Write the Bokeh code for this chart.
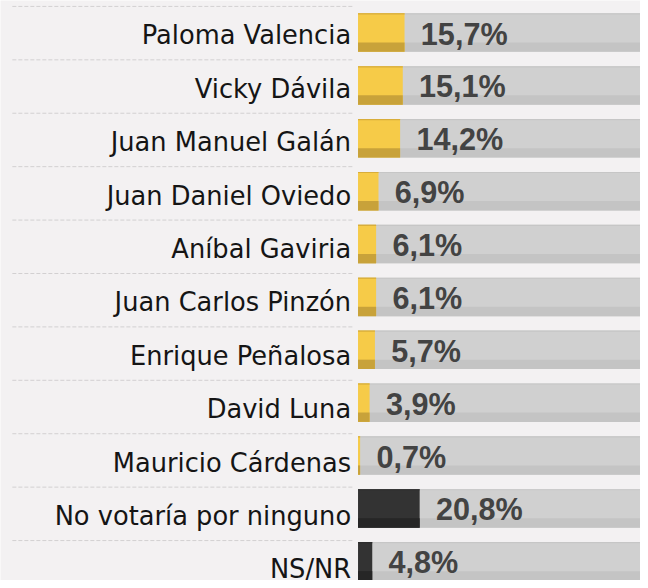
from bokeh.plotting import figure
from bokeh.models import Range1d, ColumnDataSource
from bokeh.core.properties import value
from bokeh.embed import file_html
from bokeh.resources import INLINE

# ---- data ----
candidates = [
    "Paloma Valencia", "Vicky Dávila", "Juan Manuel Galán", "Juan Daniel Oviedo",
    "Aníbal Gaviria", "Juan Carlos Pinzón", "Enrique Peñalosa", "David Luna",
    "Mauricio Cárdenas", "No votaría por ninguno", "NS/NR",
]
percentages = [15.7, 15.1, 14.2, 6.9, 6.1, 6.1, 5.7, 3.9, 0.7, 20.8, 4.8]
non_candidates = ["No votaría por ninguno", "NS/NR"]
track_max = 100

# ---- geometry (design pixels of a 648x588 canvas) ----
W, H = 640, 580
DW, DH = 648.0, 588.0
PXU = 3.0              # design px per percentage point
BAR_START = 362.0      # design px where bars start
ROW_PITCH = 53.6
ROW0 = 32.5            # design px of first bar centre
LABEL_PITCH = 54.15
LABEL_MID0 = 35.3      # design px of first label's visual centre
SEP0 = 6.0             # design px of first separator
BAR_H = 39.0
STRIP = 9.5
FS = W / DW            # font scale

def yd(px):
    return (px - ROW0) / ROW_PITCH

def xd(px):
    return (px - BAR_START) / PXU

p = figure(width=W, height=H, output_backend="svg", toolbar_location=None,
           x_range=Range1d(xd(0), xd(DW)), y_range=Range1d(yd(DH), yd(0)),
           min_border=0, min_border_left=0, min_border_right=0,
           min_border_top=0, min_border_bottom=0)
p.axis.visible = False
p.grid.visible = False
p.outline_line_color = None
p.background_fill_color = "#f3f1f2"
p.border_fill_color = "#f3f1f2"

n = len(candidates)
rows = list(range(n))
bar_h = BAR_H / ROW_PITCH
strip_h = STRIP / ROW_PITCH
edge_h = 1.2 / ROW_PITCH
strip_y = [r + bar_h / 2 - strip_h / 2 for r in rows]
edge_y = [r - bar_h / 2 + edge_h / 2 for r in rows]

main_col = ["#333333" if c in non_candidates else "#f6cb48" for c in candidates]
strip_col = ["#262626" if c in non_candidates else "#c8a23a" for c in candidates]
edge_col = ["#2e2e2e" if c in non_candidates else "#d8ad3a" for c in candidates]

src = ColumnDataSource(dict(
    y=rows, sy=strip_y, ey=edge_y, v=percentages, t=[track_max] * n,
    c=main_col, sc=strip_col, ec=edge_col, name=candidates,
    lab=[f"{v:.1f}".replace(".", ",") + "%" for v in percentages],
    lx=[v + 16.5 / PXU for v in percentages],
    ly=[r + 1.0 / ROW_PITCH for r in rows],
    nx=[xd(355.0)] * n,
    ny=[yd(LABEL_MID0 + LABEL_PITCH * r) for r in rows],
))

# separators
sep_y = [yd(SEP0 + LABEL_PITCH * i) for i in range(n + 1)]
p.segment(x0=[xd(12)] * len(sep_y), x1=[xd(357)] * len(sep_y),
          y0=sep_y, y1=sep_y, line_color="#d2d0d1", line_width=1, line_dash="4 2")

# tracks
p.hbar(y="y", left=0, right="t", height=bar_h, source=src, fill_color="#d0d0d0", line_color=None)
p.hbar(y="sy", left=0, right="t", height=strip_h, source=src, fill_color="#c4c4c4", line_color=None)
p.hbar(y="ey", left=0, right="t", height=edge_h, source=src, fill_color="#c6c6c6", line_color=None)

# value bars
p.hbar(y="y", left=0, right="v", height=bar_h, source=src, fill_color="c", line_color=None)
p.hbar(y="sy", left=0, right="v", height=strip_h, source=src, fill_color="sc", line_color=None)
p.hbar(y="ey", left=0, right="v", height=edge_h, source=src, fill_color="ec", line_color=None)

# category labels
p.text(x="nx", y="ny", text="name", source=src, text_align="right",
       text_baseline="middle", text_font=value("DejaVu Sans"),
       text_font_size=f"{26.0 * FS:.1f}px", text_color="#151515")

# value labels
p.text(x="lx", y="ly", text="lab", source=src, text_align="left",
       text_baseline="middle", text_font=value("Liberation Sans"),
       text_font_style="bold", text_font_size=f"{31.0 * FS:.1f}px", text_color="#434343")

open("out.html", "w").write(file_html(p, INLINE))
